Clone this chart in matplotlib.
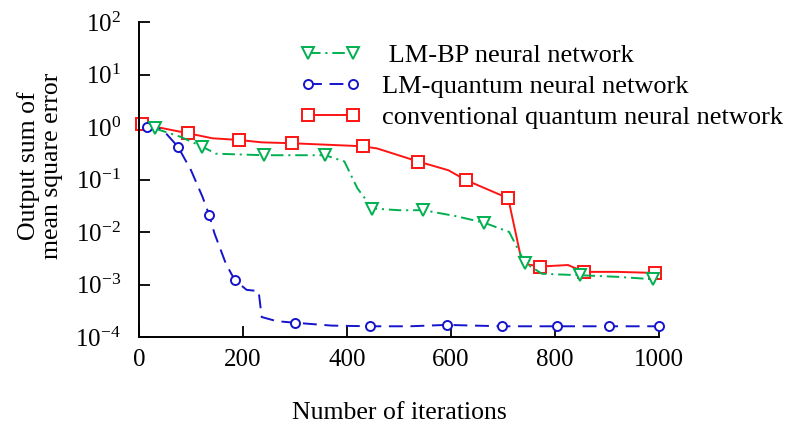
import matplotlib
matplotlib.use("Agg")
import matplotlib.pyplot as plt

plt.rcParams['font.family'] = ['Liberation Serif', 'DejaVu Serif']
plt.rcParams['mathtext.fontset'] = 'custom'
plt.rcParams['mathtext.rm'] = 'Liberation Serif'
plt.rcParams['mathtext.default'] = 'regular'
plt.rcParams['lines.scale_dashes'] = False

# LM-BP neural network
bp_x = [30, 80, 122, 148, 240, 300, 358, 395, 420, 449, 500, 547, 610, 664, 712, 742, 775, 849, 920, 988]
bp_y = [0.94, 0.65, 0.42, 0.31, 0.29, 0.29, 0.29, 0.22, 0.068, 0.028, 0.026, 0.026, 0.020, 0.015, 0.010, 0.0026, 0.0016, 0.0015, 0.0014, 0.00126]
bp_marks = [0, 2, 4, 6, 9, 11, 13, 15, 17, 19]

# LM-quantum neural network
lmq_x = [15, 45, 75, 100, 122, 135, 145, 167, 184, 207, 230, 236, 265, 300, 370, 444, 520, 592, 698, 804, 903, 1000]
lmq_y = [1.0, 0.9, 0.42, 0.15, 0.047, 0.021, 0.0095, 0.0025, 0.00122, 0.00079, 0.00075, 0.00024, 0.0002, 0.000187,
         0.000165, 0.00016, 0.00016, 0.00017, 0.00016, 0.00016, 0.00016, 0.00016]
lmq_marks = [0, 2, 5, 8, 13, 15, 17, 18, 19, 20, 21]

# conventional quantum neural network
cq_x = [5, 94, 141, 193, 236, 295, 360, 430, 458, 537, 595, 628, 710, 737, 772, 825, 856, 920, 992]
cq_y = [1.14, 0.76, 0.61, 0.565, 0.51, 0.49, 0.46, 0.43, 0.39, 0.22, 0.15, 0.098, 0.044, 0.0025, 0.0022, 0.00235,
        0.00174, 0.00174, 0.00166]
cq_marks = [0, 1, 3, 5, 7, 9, 11, 12, 14, 16, 18]

labels = [' LM-BP neural network', 'LM-quantum neural network', 'conventional quantum neural network']
x_ticks = [0, 200, 400, 600, 800, 1000]
y_ticks = [1e-4, 1e-3, 1e-2, 1e-1, 1e0, 1e1, 1e2]
y_tick_labels = ['$10^{-4}$', '$10^{-3}$', '$10^{-2}$', '$10^{-1}$', '$10^{0}$', '$10^{1}$', '$10^{2}$']

green = '#00b050'
blue = '#1414cc'
red = '#ff1414'

fig = plt.figure(figsize=(7.85, 4.28), dpi=100)
ax = fig.add_axes([139/785, 1-337/428, (659-139)/785, (337-22)/428])

l_red, = ax.plot(cq_x, cq_y, color=red, lw=1.4, ls='-', marker='s', markersize=8,
                 markerfacecolor='white', markeredgecolor=red, markeredgewidth=1.4,
                 markevery=cq_marks, zorder=2, clip_on=False)
l_blue, = ax.plot(lmq_x, lmq_y, color=blue, lw=1.4, dashes=(10, 5.5), marker='o', markersize=6.5,
                  markerfacecolor='white', markeredgecolor=blue, markeredgewidth=1.4,
                  markevery=lmq_marks, zorder=3, clip_on=False)
l_green, = ax.plot(bp_x, bp_y, color=green, lw=1.4, dashes=(9, 3.5, 1.5, 3.5), marker='v', markersize=9,
                   markerfacecolor='white', markeredgecolor=green, markeredgewidth=1.4,
                   markevery=bp_marks, zorder=4, clip_on=False)

ax.set_yscale('log')
ax.set_xlim(0, 1000)
ax.set_ylim(1e-4, 1e2)
ax.set_xticks(x_ticks)
ax.set_xticklabels([str(v) for v in x_ticks])
ax.set_yticks(y_ticks)
ax.set_yticklabels(y_tick_labels)
ax.minorticks_off()
ax.tick_params(axis='both', direction='in', length=8, width=1.3, labelsize=18, colors='black')
ax.tick_params(axis='y', pad=13)
ax.tick_params(axis='x', pad=9)
for s in ['top', 'right']:
    ax.spines[s].set_visible(False)
for s in ['left', 'bottom']:
    ax.spines[s].set_linewidth(1.4)

ax.set_xlabel('Number of iterations', fontsize=18.5, labelpad=22)
fig.text(40/785, 1-166/428, 'Output sum of\nmean square error', rotation=90, fontsize=18.5,
         ha='center', va='center', multialignment='center', linespacing=1.05)

fig.legend([l_green, l_blue, l_red], labels, loc='upper left', bbox_to_anchor=(300/785, 1-44/428),
           frameon=False, fontsize=19, handlelength=2.3, handletextpad=0.8, labelspacing=0.28,
           borderpad=0, borderaxespad=0, numpoints=2)

fig.savefig('out.png', dpi=100)
